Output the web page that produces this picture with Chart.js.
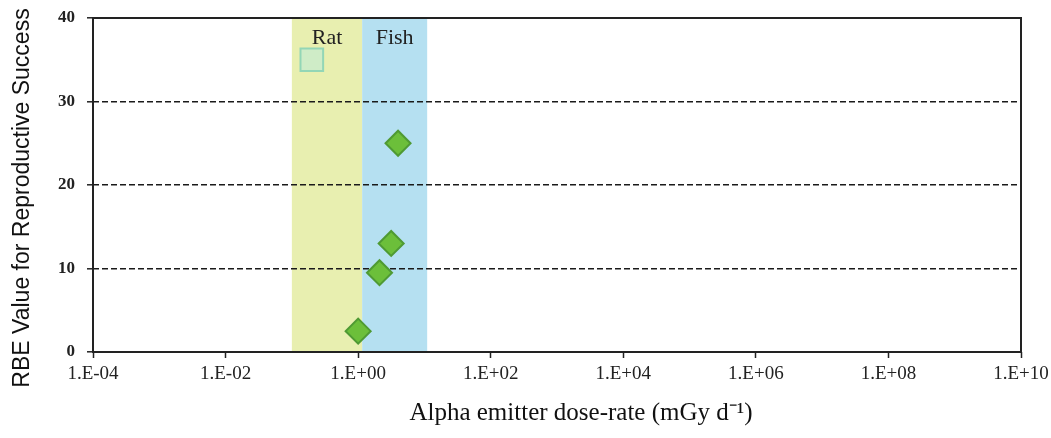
<!DOCTYPE html>
<html>
<head>
<meta charset="utf-8">
<script src="https://cdn.jsdelivr.net/npm/chart.js@4.4.1/dist/chart.umd.min.js"></script>
<style>
  html, body { margin: 0; padding: 0; background: #fff; }
  #wrap { width: 1051px; height: 438px; position: relative; }
</style>
</head>
<body>
<div id="wrap"><canvas id="chart"></canvas></div>
<script>
// Data
const ratDose = [0.2];
const ratRBE = [35];
const fishDose = [4.0, 3.15, 2.1, 1.0];
const fishRBE = [25, 13, 9.5, 2.5];

// shaded dose-rate ranges [from, to]
const bandNames = ['Rat', 'Fish'];
const bandFrom = [0.1, 1.15];
const bandTo = [1.15, 11];
const bandColors = ['#e8efb0', '#b5e0f1'];

const xTickValues = [1e-4, 1e-2, 1e0, 1e2, 1e4, 1e6, 1e8, 1e10];
const xTickLabels = ['1.E-04', '1.E-02', '1.E+00', '1.E+02', '1.E+04', '1.E+06', '1.E+08', '1.E+10'];
const yTicks = [0, 10, 20, 30, 40];

const xTitle = 'Alpha emitter dose-rate (mGy d\u207B\u00B9)';
const yTitle = 'RBE Value for Reproductive Success';

const bandsPlugin = {
    id: 'bands',
    beforeDraw(chart) {
        const { ctx, chartArea, scales } = chart;
        ctx.save();
        for (let i = 0; i < bandNames.length; i++) {
            const x1 = scales.x.getPixelForValue(bandFrom[i]);
            const x2 = scales.x.getPixelForValue(bandTo[i]);
            ctx.fillStyle = bandColors[i];
            ctx.fillRect(x1, chartArea.top, x2 - x1, chartArea.bottom - chartArea.top);
        }
        ctx.restore();
    },
    afterDraw(chart) {
        const { ctx, chartArea, scales } = chart;
        ctx.save();
        // band labels
        ctx.fillStyle = '#222';
        ctx.font = '22px "Liberation Serif", serif';
        ctx.textAlign = 'center';
        ctx.textBaseline = 'middle';
        for (let i = 0; i < bandNames.length; i++) {
            const x1 = scales.x.getPixelForValue(bandFrom[i]);
            const x2 = scales.x.getPixelForValue(bandTo[i]);
            ctx.fillText(bandNames[i], (x1 + x2) / 2, chartArea.top + 20);
        }
        // frame
        ctx.strokeStyle = '#222';
        ctx.lineWidth = 2;
        ctx.strokeRect(chartArea.left, chartArea.top, chartArea.right - chartArea.left, chartArea.bottom - chartArea.top);
        // axis titles
        ctx.fillStyle = '#111';
        ctx.font = '25px "Liberation Serif", serif';
        ctx.fillText(xTitle, 581, 413);
        ctx.translate(23, 198);
        ctx.rotate(-Math.PI / 2);
        ctx.font = '23px "Liberation Sans", Arial, sans-serif';
        ctx.fillText(yTitle, 0, 0);
        ctx.restore();
    }
};

const ctx = document.getElementById('chart');
new Chart(ctx, {
    type: 'scatter',
    data: {
        datasets: [
            {
                label: 'Rat',
                data: ratDose.map((d, i) => ({ x: d, y: ratRBE[i] })),
                pointStyle: 'rect',
                pointRadius: 16,
                backgroundColor: 'rgba(200, 235, 205, 0.8)',
                borderColor: '#93d6b6',
                borderWidth: 2
            },
            {
                label: 'Fish',
                data: fishDose.map((d, i) => ({ x: d, y: fishRBE[i] })),
                pointStyle: 'rectRot',
                pointRadius: 12.5,
                backgroundColor: '#6cbf3a',
                borderColor: '#4f9a33',
                borderWidth: 2
            }
        ]
    },
    options: {
        responsive: true,
        maintainAspectRatio: false,
        animation: false,
        layout: { padding: { top: 17, right: 30, left: 0, bottom: 0 } },
        plugins: {
            legend: { display: false },
            tooltip: { enabled: false }
        },
        scales: {
            x: {
                type: 'logarithmic',
                min: 1e-4,
                max: 1e10,
                afterBuildTicks(scale) {
                    scale.ticks = xTickValues.map(v => ({ value: v }));
                },
                afterFit(scale) {
                    scale.height = 86;
                    scale.paddingLeft = 0;
                    scale.paddingRight = 0;
                },
                ticks: {
                    autoSkip: false,
                    maxRotation: 0,
                    padding: 5,
                    color: '#222',
                    font: { family: '"Liberation Serif", serif', size: 19 },
                    callback: (v) => {
                        const i = xTickValues.findIndex(t => Math.abs(Math.log10(t) - Math.log10(v)) < 1e-6);
                        return i >= 0 ? xTickLabels[i] : '';
                    }
                },
                grid: {
                    drawOnChartArea: false,
                    drawTicks: true,
                    tickLength: 6,
                    tickColor: '#222',
                    tickWidth: 1.5
                },
                border: { display: false }
            },
            y: {
                min: 0,
                max: 40,
                afterBuildTicks(scale) {
                    scale.ticks = yTicks.map(v => ({ value: v }));
                },
                afterFit(scale) {
                    scale.width = 93;
                    scale.paddingTop = 0;
                    scale.paddingBottom = 0;
                },
                ticks: {
                    padding: 12,
                    color: '#222',
                    font: { family: '"Liberation Serif", serif', size: 17, weight: 'bold' }
                },
                grid: {
                    color: (c) => (c.tick && c.tick.value > 0 && c.tick.value < 40) ? '#1a1a1a' : 'rgba(0,0,0,0)',
                    lineWidth: 1.6,
                    tickLength: 6,
                    tickColor: '#222',
                    tickWidth: 1.5
                },
                border: { display: false, dash: [6, 3] }
            }
        }
    },
    plugins: [bandsPlugin]
});
</script>
</body>
</html>
